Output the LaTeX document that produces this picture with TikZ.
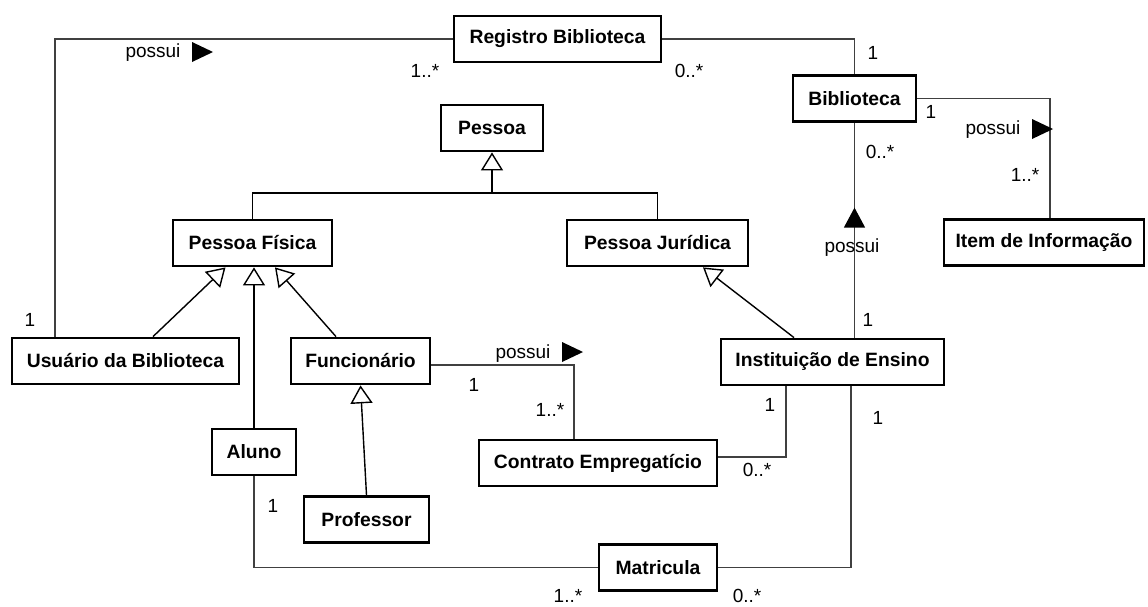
\documentclass[tikz,border=0pt]{standalone}
\usepackage{fontspec}
\setmainfont{Liberation Sans}
\usetikzlibrary{arrows.meta, calc, decorations.markings}

\tikzset{
	cls/.style={draw=black, line width=2.8pt, minimum height=46pt, inner sep=0pt, font=\fontsize{19.3}{23}\selectfont\bfseries},
	assoc/.style={line width=1.4pt, draw=black!75},
	gen/.style={line width=1.4pt, draw=black, -{Triangle[fill=white, width=22pt, length=18pt]}},
	lab/.style={inner sep=0pt},
	rtri/.pic={\fill (0pt,-10pt) -- (21pt,0pt) -- (0pt,10pt) -- cycle;},
}

\begin{document}
\begin{tikzpicture}[x=1pt, y=-1pt, font=\fontsize{19}{23}\selectfont, decoration={markings,mark=at position 130pt with {\arrow{Triangle[width=21pt,length=20pt,color=black]}}}]
	\useasboundingbox (0,0) rectangle (1148,606);
	\coordinate (split) at (492,193);
	\node[cls, minimum width=207pt] (reg) at (557.5,39) {Registro Biblioteca};
	\node[cls, minimum width=123pt] (bib) at (854.5,98.5) {Biblioteca};
	\node[cls, minimum width=200pt] (item) at (1044,242.5) {Item de Informação};
	\node[cls, minimum width=102pt] (pessoa) at (492,128) {Pessoa};
	\node[cls, minimum width=159pt] (pf) at (252.5,243) {Pessoa Física};
	\node[cls, minimum width=181pt] (pj) at (657.5,243) {Pessoa Jurídica};
	\node[cls, minimum width=227pt] (usu) at (125.5,361) {Usuário da Biblioteca};
	\node[cls, minimum width=139pt] (func) at (360.5,361) {Funcionário};
	\node[cls, minimum width=223pt] (inst) at (832.5,362) {Instituição de Ensino};
	\node[cls, minimum width=84pt] (aluno) at (254,452) {Aluno};
	\node[cls, minimum width=125pt] (prof) at (366.5,519.5) {Professor};
	\node[cls, minimum width=238pt] (cont) at (598,463) {Contrato Empregatício};
	\node[cls, minimum width=118pt] (mat) at (658,567.5) {Matricula};
	\draw[assoc] (reg.west) -| ([xshift=-70.5pt]usu.north);
	\draw[assoc] (reg.east) -| (bib.north);
	\draw[assoc] (bib.east) -| ([xshift=6pt]item.north);
	\draw[assoc, postaction={decorate}] (bib.south |- inst.north) -- (bib.south);
	\draw[assoc] ([yshift=-4pt]func.east) -| ([xshift=-24pt]cont.north);
	\draw[assoc] ([yshift=6pt]cont.east) -| ([xshift=-46.5pt]inst.south);
	\draw[assoc] (aluno.south) |- (mat.west);
	\draw[assoc] (mat.east) -| ([xshift=18.5pt]inst.south);
	\draw[assoc, draw=black] (pf.north) |- (split) -| (pj.north);
	\draw[gen] (split) -- (pessoa.south);
	\draw[gen] ([xshift=27.5pt]usu.north) -- ([xshift=-27pt]pf.south);
	\draw[gen] (aluno.north) -- (aluno.north |- pf.south);
	\draw[gen] ([xshift=-24.5pt]func.north) -- ([xshift=22.5pt]pf.south);
	\draw[gen] (prof.north) -- (func.south);
	\draw[gen] ([xshift=-38.5pt]inst.north) -- ([xshift=45.5pt]pj.south);
	\node[lab] (possreg) at (153,53) {possui};
	\pic at (192,52) {rtri};
	\node[lab] (possitem) at (993,130) {possui};
	\pic at (1032,129) {rtri};
	\node[lab] (posscont) at (523,354) {possui};
	\pic at (562,352) {rtri};
	\node[lab] (possbib) at (852,248) {possui};
	\node[lab] (mreg1) at (425,71) {1..*};
	\node[lab] (mreg2) at (689,71) {0..*};
	\node[lab] (mbib1) at (873,53) {1};
	\node[lab] (mbib2) at (931,112) {1};
	\node[lab] (mitem) at (1025,175) {1..*};
	\node[lab] (mbib3) at (880,152) {0..*};
	\node[lab] (minst1) at (868,320) {1};
	\node[lab] (musu) at (30,320) {1};
	\node[lab] (mfunc) at (474,385) {1};
	\node[lab] (mcont1) at (550,410) {1..*};
	\node[lab] (minst2) at (770,405) {1};
	\node[lab] (minst3) at (878,418) {1};
	\node[lab] (mcont2) at (757,470) {0..*};
	\node[lab] (maluno) at (273,506) {1};
	\node[lab] (mmat1) at (568,596) {1..*};
	\node[lab] (mmat2) at (747,596) {0..*};
\end{tikzpicture}
\end{document}
